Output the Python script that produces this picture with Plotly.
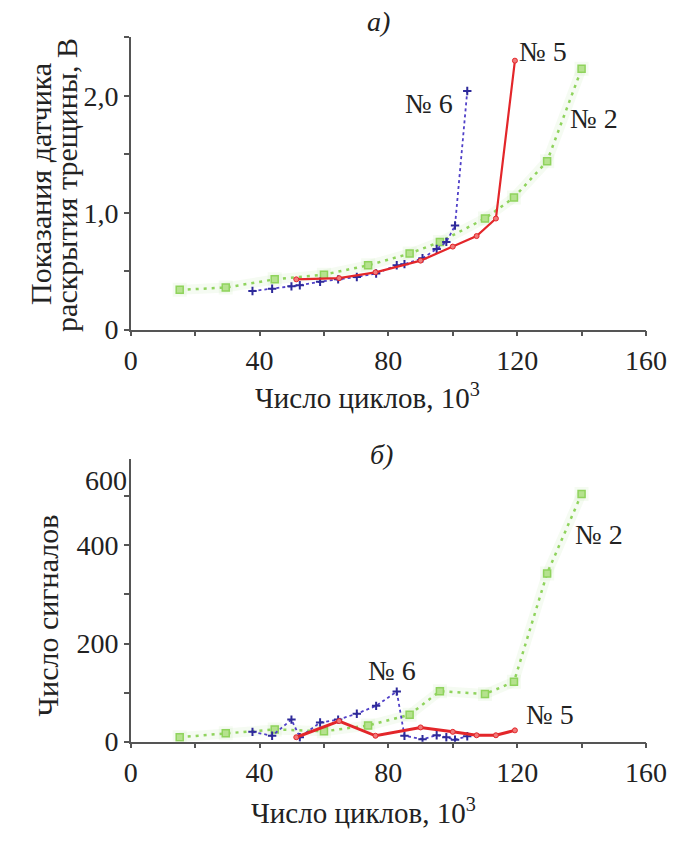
import plotly.graph_objects as go

# Fatigue test data: cycles (thousands) for specimens No 2, No 5, No 6
cycles_n2 = [15.2, 29.5, 44.7, 60.0, 73.7, 86.6, 96.0, 110.0, 119.0, 129.3, 140.0]
cycles_n5 = [51.4, 64.7, 76.0, 90.0, 100.0, 107.4, 113.4, 119.3]
cycles_n6 = [37.8, 43.9, 49.9, 52.5, 58.8, 64.4, 70.2, 76.2, 82.6, 85.0, 90.6, 95.0, 98.0, 100.7, 104.5]

# (a) crack opening sensor readings, V
sensor_n2 = [0.34, 0.36, 0.43, 0.47, 0.55, 0.65, 0.75, 0.95, 1.13, 1.44, 2.23]
sensor_n5 = [0.43, 0.44, 0.49, 0.59, 0.71, 0.80, 0.95, 2.30]
sensor_n6 = [0.33, 0.35, 0.37, 0.38, 0.41, 0.43, 0.45, 0.48, 0.55, 0.56, 0.61, 0.69, 0.75, 0.89, 2.04]

# (б) number of acoustic signals
signals_n2 = [9, 17, 25, 21, 33, 55, 103, 97, 122, 343, 505]
signals_n5 = [9, 42, 12, 29, 20, 13, 13, 23]
signals_n6 = [20, 12, 45, 9, 39, 45, 57, 73, 102, 12, 5, 13, 9, 4, 11]

# labelled ticks and unlabelled intermediate ticks
x_ticks = [0, 40, 80, 120, 160]
x_ticktext = ["0", "40", "80", "120", "160"]
x_minor = [20, 60, 100, 140]
y1_ticks = [0, 1.0, 2.0]
y1_ticktext = ["0", "1,0", "2,0"]
y1_minor = [0.5, 1.5, 2.5]
y2_ticks = [0, 200, 400]
y2_ticktext = ["0", "200", "400"]
y2_minor = [100, 300, 500]

FONT = "Liberation Serif, Times New Roman, serif"
FS = 28
GREEN = "#8fd35c"
GREEN_HALO = "rgba(160,220,130,0.10)"
RED = "#e3262a"
BLUE = "#5040c8"
INK = "#222222"
AXIS = "#555555"

W, H = 690, 843


def px_x(p):
    return p / W


def px_y(p):
    return 1 - p / H


fig = go.Figure()


def add_series(xa, ya, y2, y5, y6, red_width):
    # soft halo under specimen No 2
    fig.add_trace(go.Scatter(x=cycles_n2, y=y2, xaxis=xa, yaxis=ya, mode="lines+markers",
                             line=dict(color=GREEN_HALO, width=10),
                             marker=dict(size=14, color=GREEN_HALO, symbol="square"),
                             hoverinfo="skip", showlegend=False))
    fig.add_trace(go.Scatter(x=cycles_n2, y=y2, xaxis=xa, yaxis=ya, mode="lines+markers",
                             line=dict(color=GREEN, width=2.5, dash="3px,5px"),
                             marker=dict(size=7, color="#b5e28e", symbol="square",
                                         line=dict(color=GREEN, width=1.5)),
                             name="№ 2", showlegend=False))
    fig.add_trace(go.Scatter(x=cycles_n6, y=y6, xaxis=xa, yaxis=ya, mode="lines+markers",
                             line=dict(color=BLUE, width=1.8, dash="dot"),
                             marker=dict(size=6, color="#2e2a9a", symbol="cross-thin",
                                         line=dict(color="#2e2a9a", width=2)),
                             name="№ 6", showlegend=False))
    fig.add_trace(go.Scatter(x=cycles_n5, y=y5, xaxis=xa, yaxis=ya, mode="lines+markers",
                             line=dict(color=RED, width=red_width),
                             marker=dict(size=5, color="#f07a7a", symbol="circle",
                                         line=dict(color=RED, width=1)),
                             name="№ 5", showlegend=False))


add_series("x", "y", sensor_n2, sensor_n5, sensor_n6, 2.2)
add_series("x2", "y2", signals_n2, signals_n5, signals_n6, 3)

axis_common = dict(showline=True, linecolor=AXIS, linewidth=1.5, showgrid=False,
                   zeroline=False, ticks="outside", ticklen=5, tickwidth=1.5,
                   tickcolor=AXIS, tickfont=dict(family=FONT, size=FS, color=INK))


def minor(vals):
    return dict(tickvals=vals, ticks="outside", ticklen=5, tickwidth=1.5,
                tickcolor=AXIS, showgrid=False)


x_dom = [px_x(129), px_x(666)]

fig.update_layout(
    width=W, height=H, margin=dict(l=0, r=0, t=0, b=0),
    paper_bgcolor="white", plot_bgcolor="white",
    xaxis=dict(domain=x_dom, range=[0, 160], anchor="y", tickvals=x_ticks,
               ticktext=x_ticktext, minor=minor(x_minor), **axis_common),
    yaxis=dict(domain=[px_y(336), px_y(38)], range=[0, 2.5], anchor="x", tickvals=y1_ticks,
               ticktext=y1_ticktext, minor=minor(y1_minor), **axis_common),
    xaxis2=dict(domain=x_dom, range=[0, 160], anchor="y2", tickvals=x_ticks,
                ticktext=x_ticktext, minor=minor(x_minor), **axis_common),
    yaxis2=dict(domain=[px_y(756), px_y(468)], range=[0, 576], anchor="x2", tickvals=y2_ticks,
                ticktext=y2_ticktext, minor=minor(y2_minor), **axis_common),
)


def note(text, x, y, size=FS, **kw):
    fig.add_annotation(text=text, x=px_x(x), y=px_y(y), xref="paper", yref="paper",
                       xanchor="center", yanchor="middle", showarrow=False,
                       font=dict(family=FONT, size=size, color=INK), **kw)


# panel letters
note("<i>а)</i>", 387, 22)
note("<i>б)</i>", 390, 463)

# specimen labels
note("№ 5", 559, 52)
note("№ 6", 440, 106)
note("№ 2", 612, 121)
note("№ 2", 617, 545)
note("№ 6", 401, 683)
note("№ 5", 566, 728)

# axis titles
note("Число циклов, 10<sup>3</sup>", 376, 404, size=29)
note("Число циклов, 10<sup>3</sup>", 372, 827, size=29)
note("Показания датчика", 35, 188, size=30, textangle=-90)
note("раскрытия трещины, В", 62, 188, size=30, textangle=-90)
note("Число сигналов", 42, 627, size=30, textangle=-90)

# upper label of the signal-count axis
fig.add_annotation(text="600", x=px_x(127), y=532, xref="paper", yref="y2",
                   xanchor="right", yanchor="middle", showarrow=False,
                   font=dict(family=FONT, size=FS, color=INK))

fig.write_html("out.html")
